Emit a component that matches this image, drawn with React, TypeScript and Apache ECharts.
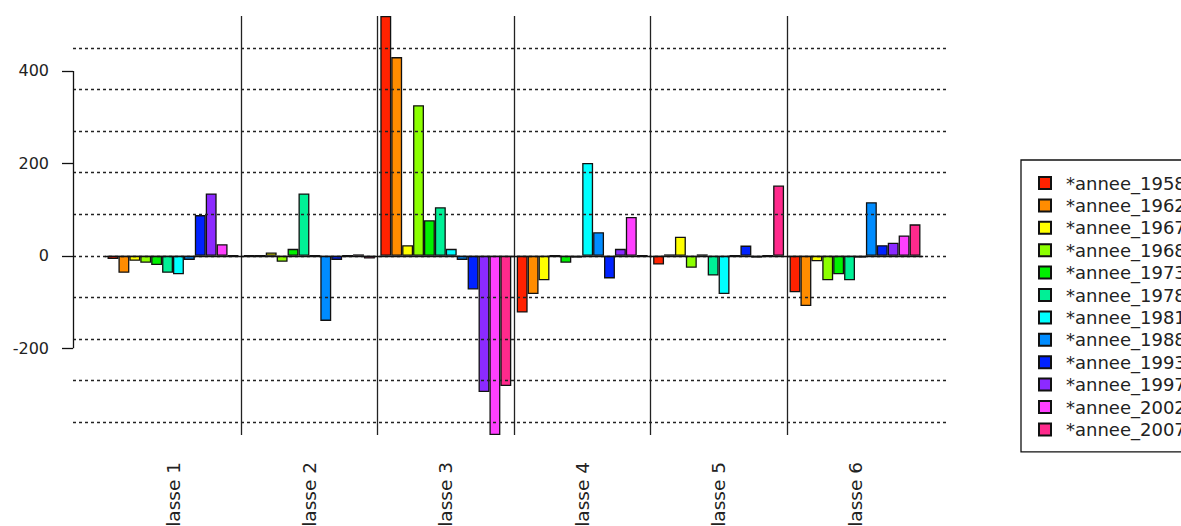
import { useEffect, useRef } from "react";
import * as echarts from "echarts";

const categories = ["classe 1", "classe 2", "classe 3", "classe 4", "classe 5", "classe 6"];
const seriesNames = [
  "*annee_1958", "*annee_1962", "*annee_1967", "*annee_1968",
  "*annee_1973", "*annee_1978", "*annee_1981", "*annee_1988",
  "*annee_1993", "*annee_1997", "*annee_2002", "*annee_2007",
];
const colors = [
  "#FF2200", "#FF8C00", "#FFFF00", "#8CFF00", "#00F000", "#00F096",
  "#00FFFF", "#008CFF", "#0022FF", "#8C2AFF", "#FF40FF", "#FF2A8C",
];
const annee1958 = [-7, 0, 519, -123, -19, -79];
const annee1962 = [-37, 0, 430, -83, 3, -109];
const annee1967 = [-11, 7, 23, -53, 41, -12];
const annee1968 = [-15, -13, 326, 0, -26, -53];
const annee1973 = [-20, 15, 77, -15, 3, -40];
const annee1978 = [-37, 135, 105, -4, -43, -53];
const annee1981 = [-40, 0, 15, 201, -83, -4];
const annee1988 = [-9, -141, -9, 51, 0, 116];
const annee1993 = [88, -9, -73, -49, 22, 23];
const annee1997 = [135, 0, -295, 15, -4, 28];
const annee2002 = [25, 3, -388, 84, 0, 44];
const annee2007 = [0, -6, -282, 0, 152, 68];
const seriesValues = [
  annee1958, annee1962, annee1967, annee1968, annee1973, annee1978,
  annee1981, annee1988, annee1993, annee1997, annee2002, annee2007,
];
const yTicks = [-200, 0, 200, 400];
const gridValues = [-360, -270, -180, -90, 0, 90, 180, 270, 360, 450];
const yMin = -388;
const yMax = 519;

export default function App() {
  const ref = useRef<HTMLDivElement>(null);
  useEffect(() => {
    if (!ref.current) return;
    const chart = echarts.init(ref.current, undefined, { renderer: "svg" });
    const font = "DejaVu Sans";
    const bars = seriesNames.map((name, i) => ({
      name,
      type: "bar",
      xAxisIndex: 1,
      yAxisIndex: 1,
      data: seriesValues[i],
      barGap: "0%",
      barCategoryGap: "4%",
      itemStyle: { color: colors[i], borderColor: "#111", borderWidth: 1.3 },
      emphasis: { disabled: true },
      z: 2,
    }));
    chart.setOption({
      animation: false,
      backgroundColor: "#fff",
      grid: [
        { left: 73, right: 233, top: 16, bottom: 91, outerBoundsMode: "none", containLabel: false },
        { left: 104.8, right: 257.8, top: 16, bottom: 91, outerBoundsMode: "none", containLabel: false },
      ],
      xAxis: [
        { type: "value", gridIndex: 0, min: 0, max: 1, show: false },
        {
          type: "category",
          gridIndex: 1,
          data: categories,
          axisLine: { show: false },
          axisTick: { show: false },
          axisLabel: {
            rotate: 90,
            margin: 27,
            fontFamily: font,
            fontSize: 18.5,
            color: "#222",
          },
          splitLine: {
            show: true,
            showMinLine: false,
            showMaxLine: false,
            lineStyle: { color: "#222", width: 1.3, type: "solid" },
          },
        },
      ],
      yAxis: [
        {
          type: "value",
          gridIndex: 0,
          min: yMin,
          max: yMax,
          axisLine: { show: false },
          axisTick: {
            show: true,
            length: 11,
            customValues: yTicks,
            lineStyle: { color: "#111", width: 1.3 },
          },
          axisLabel: {
            customValues: yTicks,
            margin: 24,
            fontFamily: font,
            fontSize: 16,
            color: "#222",
          },
          splitLine: { show: false },
        },
        {
          type: "value",
          gridIndex: 1,
          min: yMin,
          max: yMax,
          show: false,
          splitLine: { show: false },
        },
      ],
      legend: {
        orient: "vertical",
        left: 1021,
        top: 160,
        data: seriesNames,
        itemWidth: 12,
        itemHeight: 12,
        itemGap: 4.4,
        padding: [14, 40, 13.5, 17],
        borderColor: "#111",
        borderWidth: 1.3,
        icon: "rect",
        selectedMode: false,
        textStyle: {
          fontFamily: font,
          fontSize: 18,
          color: "#222",
          padding: [0, 0, 0, 10],
        },
      },
      series: [
        ...bars,
        {
          type: "line",
          xAxisIndex: 0,
          yAxisIndex: 0,
          data: [],
          silent: true,
          z: 10,
          markLine: {
            silent: true,
            symbol: "none",
            label: { show: false },
            emphasis: { disabled: true },
            data: [
              ...gridValues.map((v) => ({
                yAxis: v,
                lineStyle: { color: "#222", width: 1.3, type: [3, 3] },
              })),
              [
                { coord: [0, yTicks[0]], lineStyle: { color: "#111", width: 1.3, type: "solid" } },
                { coord: [0, yTicks[yTicks.length - 1]] },
              ],
            ],
          },
        },
        {
          type: "line",
          xAxisIndex: 1,
          yAxisIndex: 1,
          data: [],
          silent: true,
          z: 11,
          markLine: {
            silent: true,
            symbol: "none",
            label: { show: false },
            emphasis: { disabled: true },
            data: [{ yAxis: 0, lineStyle: { color: "#111", width: 1.3, type: "solid" } }],
          },
        },
      ],
    });
    return () => chart.dispose();
  }, []);
  return (
    <div
      ref={ref}
      style={{ position: "absolute", left: 0, top: 0, width: 1181, height: 526 }}
    />
  );
}
